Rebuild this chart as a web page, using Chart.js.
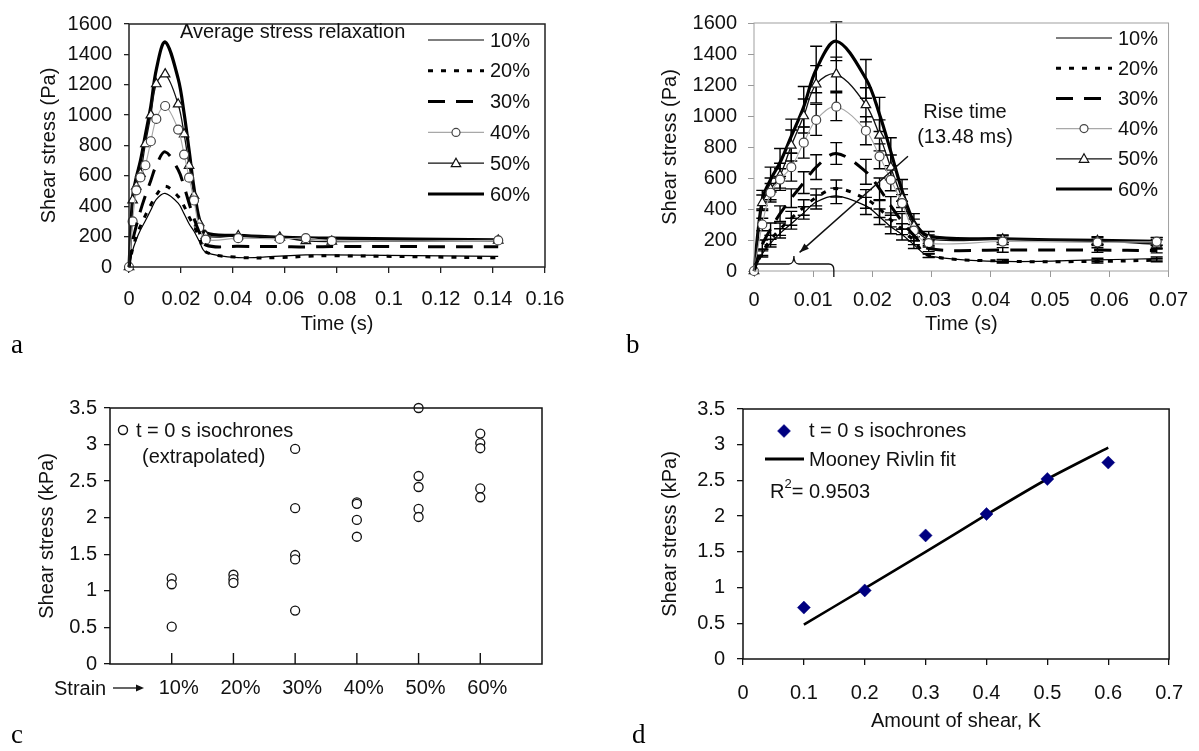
<!DOCTYPE html>
<html><head><meta charset="utf-8">
<script src="https://cdn.jsdelivr.net/npm/chart.js@4.4.0/dist/chart.umd.min.js"></script>
<style>
html,body{margin:0;padding:0;background:#fff;}
#wrap{position:relative;width:1199px;height:751px;overflow:hidden;background:#fff;}
.pane{position:absolute;}
.letter{position:absolute;font-family:"Liberation Serif","Times New Roman",serif;font-size:27px;line-height:27px;color:#000;}
</style></head><body>
<div id="wrap">
 <div class="pane" style="left:0;top:0;width:600px;height:360px"><canvas id="ca"></canvas></div>
 <div class="pane" style="left:600px;top:0;width:599px;height:360px"><canvas id="cb"></canvas></div>
 <div class="pane" style="left:0;top:360px;width:600px;height:391px"><canvas id="cc"></canvas></div>
 <div class="pane" style="left:600px;top:360px;width:599px;height:391px"><canvas id="cd"></canvas></div>
 <div class="letter" style="left:11px;top:331px">a</div>
 <div class="letter" style="left:626px;top:331px">b</div>
 <div class="letter" style="left:11px;top:721px">c</div>
 <div class="letter" style="left:632px;top:721px">d</div>
</div>
<script>
// ---------- data: panels a & b (stress relaxation) ----------
const times = [0, 0.0014, 0.0028, 0.0044, 0.0063, 0.0084, 0.0105, 0.0139, 0.0189, 0.0212, 0.0231, 0.025, 0.027, 0.0295, 0.042, 0.058, 0.068, 0.078, 0.142];
const stress10 = [0, 110, 180, 243, 305, 375, 445, 485, 420, 350, 285, 235, 170, 98, 62, 72, 80, 80, 70];
const stress20 = [0, 120, 200, 270, 340, 410, 475, 532, 465, 400, 330, 270, 195, 100, 64, 62, 70, 74, 60];
const stress30 = [0, 170, 270, 370, 470, 570, 670, 758, 640, 530, 420, 320, 230, 145, 136, 135, 132, 135, 133];
const stress40 = [0, 300, 505, 590, 670, 828, 975, 1060, 905, 740, 588, 438, 260, 180, 190, 185, 190, 172, 175];
const stress50 = [0, 440, 530, 615, 810, 1000, 1205, 1270, 1072, 875, 668, 470, 290, 205, 205, 195, 172, 168, 175];
const stress60 = [0, 460, 590, 700, 870, 1060, 1300, 1482, 1240, 1010, 770, 520, 320, 225, 208, 197, 192, 190, 178];
// error bars (panel b), one per time point up to 0.068 s
const err10 = [0, 20, 25, 30, 35, 40, 45, 50, 55, 50, 45, 35, 25, 12, 10, 10, 10];
const err20 = [0, 20, 30, 40, 45, 50, 55, 55, 60, 55, 45, 35, 25, 12, 10, 10, 10];
const err30 = [0, 30, 40, 50, 60, 70, 80, 70, 80, 70, 60, 50, 35, 20, 15, 15, 15];
const err40 = [0, 40, 60, 70, 90, 100, 100, 90, 90, 80, 70, 55, 40, 25, 20, 20, 25];
const err50 = [0, 50, 70, 80, 100, 110, 120, 110, 110, 100, 80, 60, 45, 28, 22, 22, 30];
const err60 = [0, 60, 80, 90, 110, 130, 150, 125, 125, 110, 90, 70, 50, 30, 25, 25, 25];
const seriesLabels = ['10%', '20%', '30%', '40%', '50%', '60%'];
const riseTimeS = 0.01348;
const riseArrowFrom = [0.026, 740];
const riseArrowTo = [0.0077, 120];

// ---------- data: panel c (isochrones by strain) ----------
const strainCats = ['10%', '20%', '30%', '40%', '50%', '60%'];
const iso10 = [1.17, 1.09, 0.51];
const iso20 = [1.22, 1.16, 1.11];
const iso30 = [2.94, 2.13, 1.49, 1.43, 0.73];
const iso40 = [2.21, 2.19, 1.97, 1.74];
const iso50 = [3.5, 2.57, 2.42, 2.12, 2.01];
const iso60 = [3.15, 3.02, 2.95, 2.40, 2.28];

// ---------- data: panel d (Mooney Rivlin) ----------
const shearK = [0.1, 0.2, 0.3, 0.4, 0.5, 0.6];
const isoStressK = [0.72, 0.96, 1.73, 2.03, 2.52, 2.75];
const fitStressK = [0.48, 0.99, 1.50, 2.02, 2.52, 2.96];

// ---------- common ----------
const FONT = '"Liberation Sans", Arial, Helvetica, sans-serif';
Chart.defaults.font.family = FONT;
Chart.defaults.font.size = 20;
Chart.defaults.color = '#111';
Chart.defaults.animation = false;
Chart.defaults.plugins.legend.display = false;
Chart.defaults.plugins.tooltip.enabled = false;

const allSeries = [stress10, stress20, stress30, stress40, stress50, stress60];
const allErr = [err10, err20, err30, err40, err50, err60];
const styles = [
  {color:'#000', width:1.2, dash:[], point:null},
  {color:'#000', width:3, dash:[5,8], point:null},
  {color:'#000', width:3, dash:[17,11], point:null},
  {color:'#a8a8a8', width:1.1, dash:[], point:'circle', r:4.5, pcol:'#444'},
  {color:'#111', width:1.3, dash:[], point:'triangle', r:5.5, pcol:'#111'},
  {color:'#000', width:3.2, dash:[], point:null}
];
const fmt = v => String(Math.round(v * 1000) / 1000);

function drawMarker(ctx, style, x, y, r, stroke, lw, fill) {
  ctx.save();
  ctx.setLineDash([]);
  ctx.lineWidth = lw; ctx.strokeStyle = stroke; ctx.fillStyle = fill || '#fff';
  ctx.beginPath();
  if (style === 'circle') ctx.arc(x, y, r, 0, Math.PI * 2);
  else if (style === 'triangle') {
    ctx.moveTo(x, y - r); ctx.lineTo(x + r * 0.95, y + r * 0.7); ctx.lineTo(x - r * 0.95, y + r * 0.7); ctx.closePath();
  } else if (style === 'diamond') {
    ctx.moveTo(x, y - r); ctx.lineTo(x + r, y); ctx.lineTo(x, y + r); ctx.lineTo(x - r, y); ctx.closePath();
  }
  ctx.fill(); ctx.stroke();
  ctx.restore();
}

function xAxis(o) {
  return {
    type: 'linear', position: 'bottom', min: o.min, max: o.max,
    afterBuildTicks: o.afterBuildTicks,
    ticks: {stepSize: o.step, padding: o.pad, color: '#111', font: {size: 20}, maxRotation: 0, autoSkip: false,
            callback: o.cb || fmt, labelOffset: o.labelOffset || 0},
    grid: {drawOnChartArea: false, drawTicks: o.tl > 0, tickLength: o.tl, color: o.col, lineWidth: o.lw},
    border: {display: false},
    title: {display: !!o.title, text: o.title, font: {size: 20}, color: '#111', padding: {top: 0, bottom: o.tpad || 0}},
    afterFit: s => { s.height = o.h; }
  };
}
function yAxis(o) {
  return {
    type: 'linear', position: 'left', min: o.min, max: o.max,
    ticks: {stepSize: o.step, padding: o.pad, color: '#111', font: {size: 20}, autoSkip: false, callback: fmt},
    grid: {drawOnChartArea: false, drawTicks: true, tickLength: o.tl, color: o.col, lineWidth: o.lw},
    border: {display: false},
    title: {display: true, text: o.title, font: {size: 20}, color: '#111', padding: {top: o.tpad, bottom: 0}},
    afterFit: s => { s.width = o.w; }
  };
}
function framePlugin(col, lw) {
  return {id: 'frame', afterDraw(chart) {
    const {ctx, chartArea: a} = chart;
    ctx.save(); ctx.strokeStyle = col; ctx.lineWidth = lw; ctx.setLineDash([]);
    ctx.strokeRect(a.left, a.top, a.right - a.left, a.bottom - a.top);
    ctx.restore();
  }};
}
function relaxLegend(x1, x2, tx, y0, dy) {
  return {id: 'relaxLegend', afterDraw(chart) {
    const ctx = chart.ctx;
    ctx.save();
    chart.data.datasets.forEach((ds, k) => {
      const st = styles[k];
      const y = y0 + k * dy;
      ctx.beginPath(); ctx.setLineDash(st.dash); ctx.lineCap = 'butt';
      ctx.strokeStyle = st.color; ctx.lineWidth = st.width;
      ctx.moveTo(x1, y); ctx.lineTo(x2, y); ctx.stroke();
      ctx.setLineDash([]);
      if (st.point) drawMarker(ctx, st.point, (x1 + x2) / 2, y, st.point === 'circle' ? 4 : 5, st.pcol, 1.2);
      ctx.fillStyle = '#111'; ctx.font = '20px ' + FONT; ctx.textAlign = 'left'; ctx.textBaseline = 'middle';
      ctx.fillText(ds.label, tx, y + 1);
    });
    ctx.restore();
  }};
}
function relaxSets(tmax, withErr) {
  return seriesLabels.map((lab, k) => {
    const st = styles[k];
    const pts = [];
    times.forEach((t, i) => { if (t <= tmax) pts.push({x: t, y: allSeries[k][i]}); });
    return {
      label: lab, data: pts, borderColor: st.color, borderWidth: st.width, borderDash: st.dash,
      borderCapStyle: 'butt', tension: 0.35, fill: false, clip: false,
      pointStyle: st.point || 'circle', pointRadius: st.point ? st.r : 0,
      pointBackgroundColor: '#fff', pointBorderColor: st.pcol || '#000', pointBorderWidth: 1.2,
      errs: withErr ? allErr[k] : null
    };
  });
}
const baseOpts = {responsive: true, maintainAspectRatio: false, devicePixelRatio: 1, events: []};

// ---------- panel a ----------
new Chart(document.getElementById('ca'), {
  type: 'line',
  data: {datasets: relaxSets(1, false)},
  options: Object.assign({}, baseOpts, {
    layout: {padding: {left: 0, top: 13, right: 55, bottom: 0}},
    scales: {
      x: xAxis({min: 0, max: 0.16, step: 0.02, pad: 14, tl: 6, col: '#222', lw: 1.3, title: 'Time (s)', tpad: 24, h: 93}),
      y: yAxis({min: 0, max: 1600, step: 200, pad: 12, tl: 5, col: '#222', lw: 1.3, title: 'Shear stress (Pa)', tpad: 37, w: 129})
    }
  }),
  plugins: [framePlugin('#222', 1.5), relaxLegend(428, 484, 490, 40, 30.8), {
    id: 'titleA', afterDraw(chart) {
      const ctx = chart.ctx; ctx.save();
      ctx.fillStyle = '#111'; ctx.font = '20px ' + FONT; ctx.textAlign = 'left'; ctx.textBaseline = 'middle';
      ctx.fillText('Average stress relaxation', 180, 32);
      ctx.restore();
    }
  }]
});

// ---------- panel b ----------
new Chart(document.getElementById('cb'), {
  type: 'line',
  data: {datasets: relaxSets(0.07, true)},
  options: Object.assign({}, baseOpts, {
    layout: {padding: {left: 0, top: 13, right: 28, bottom: 0}},
    scales: {
      x: xAxis({min: 0, max: 0.07, step: 0.01, pad: 11, tl: 6, col: '#999', lw: 1, title: 'Time (s)', tpad: 24, h: 89}),
      y: yAxis({min: 0, max: 1600, step: 200, pad: 11, tl: 6, col: '#999', lw: 1, title: 'Shear stress (Pa)', tpad: 58, w: 154})
    }
  }),
  plugins: [framePlugin('#a0a0a0', 1), {
    id: 'errBars', beforeDatasetsDraw(chart) {
      const {ctx, scales: {x, y}} = chart;
      ctx.save(); ctx.strokeStyle = '#000'; ctx.lineWidth = 1.4; ctx.setLineDash([]);
      chart.data.datasets.forEach(ds => {
        if (!ds.errs) return;
        ds.data.forEach((p, i) => {
          const e = ds.errs[i]; if (!e) return;
          const px = x.getPixelForValue(p.x), p1 = y.getPixelForValue(p.y + e), p2 = y.getPixelForValue(p.y - e);
          ctx.beginPath();
          ctx.moveTo(px, p1); ctx.lineTo(px, p2);
          ctx.moveTo(px - 6, p1); ctx.lineTo(px + 6, p1);
          ctx.moveTo(px - 6, p2); ctx.lineTo(px + 6, p2);
          ctx.stroke();
        });
      });
      ctx.restore();
    }
  }, relaxLegend(456, 512, 518, 38, 30.2), {
    id: 'riseTime', afterDraw(chart) {
      const {ctx, scales: {x, y}} = chart;
      ctx.save();
      ctx.fillStyle = '#111'; ctx.font = '20px ' + FONT; ctx.textAlign = 'center'; ctx.textBaseline = 'middle';
      ctx.fillText('Rise time', 365, 112);
      ctx.fillText('(13.48 ms)', 365, 137);
      // brace spanning the rise time
      const x0 = x.getPixelForValue(0), x1 = x.getPixelForValue(riseTimeS), xm = x.getPixelForValue(riseTimeS / 2);
      const yb = y.getPixelForValue(0) - 7;
      ctx.strokeStyle = '#111'; ctx.lineWidth = 1.3; ctx.setLineDash([]);
      ctx.beginPath();
      ctx.moveTo(x0, yb); ctx.lineTo(xm - 5, yb);
      ctx.quadraticCurveTo(xm, yb, xm, yb - 8);
      ctx.quadraticCurveTo(xm, yb, xm + 5, yb);
      ctx.lineTo(x1 - 5, yb);
      ctx.quadraticCurveTo(x1, yb, x1, yb + 6);
      ctx.lineTo(x1, yb + 13);
      ctx.stroke();
      // arrow
      const ax1 = x.getPixelForValue(riseArrowFrom[0]), ay1 = y.getPixelForValue(riseArrowFrom[1]);
      const ax2 = x.getPixelForValue(riseArrowTo[0]), ay2 = y.getPixelForValue(riseArrowTo[1]);
      ctx.beginPath(); ctx.moveTo(ax1, ay1); ctx.lineTo(ax2, ay2); ctx.lineWidth = 1.5; ctx.stroke();
      const ang = Math.atan2(ay2 - ay1, ax2 - ax1);
      ctx.beginPath();
      ctx.moveTo(ax2, ay2);
      ctx.lineTo(ax2 - 10 * Math.cos(ang - 0.35), ay2 - 10 * Math.sin(ang - 0.35));
      ctx.lineTo(ax2 - 10 * Math.cos(ang + 0.35), ay2 - 10 * Math.sin(ang + 0.35));
      ctx.closePath(); ctx.fillStyle = '#111'; ctx.fill();
      ctx.restore();
    }
  }]
});

// ---------- panel c ----------
const isoGroups = [iso10, iso20, iso30, iso40, iso50, iso60];
const isoPoints = [];
isoGroups.forEach((g, i) => g.forEach(v => isoPoints.push({x: i + 1, y: v})));
new Chart(document.getElementById('cc'), {
  type: 'scatter',
  data: {datasets: [{
    label: 't = 0 s isochrones (extrapolated)', data: isoPoints, clip: false,
    pointStyle: 'circle', pointRadius: 4.5, pointBackgroundColor: '#fff', pointBorderColor: '#111', pointBorderWidth: 1.3
  }]},
  options: Object.assign({}, baseOpts, {
    layout: {padding: {left: 0, top: 48, right: 58, bottom: 0}},
    scales: {
      x: xAxis({min: 0, max: 7, pad: 12, tl: 0, col: '#111', lw: 1.3, h: 87, labelOffset: 7,
        afterBuildTicks: s => { s.ticks = strainCats.map((c, i) => ({value: i + 1})); },
        cb: v => strainCats[Math.round(v) - 1] || ''}),
      y: yAxis({min: 0, max: 3.5, step: 0.5, pad: 7, tl: 6, col: '#111', lw: 1.3, title: 'Shear stress (kPa)', tpad: 35, w: 110})
    }
  }),
  plugins: [framePlugin('#111', 1.5), {
    id: 'cExtras', afterDraw(chart) {
      const {ctx, scales: {x, y}, chartArea: a} = chart;
      ctx.save();
      ctx.strokeStyle = '#111'; ctx.lineWidth = 1.4;
      strainCats.forEach((c, i) => {
        const px = x.getPixelForValue(i + 1);
        ctx.beginPath(); ctx.moveTo(px, a.bottom); ctx.lineTo(px, a.bottom - 11); ctx.stroke();
      });
      ctx.fillStyle = '#111'; ctx.font = '20px ' + FONT; ctx.textBaseline = 'middle'; ctx.textAlign = 'left';
      ctx.fillText('Strain', 54, 329);
      ctx.beginPath(); ctx.moveTo(113, 328); ctx.lineTo(138, 328); ctx.lineWidth = 1.3; ctx.stroke();
      ctx.beginPath(); ctx.moveTo(144, 328); ctx.lineTo(136, 324.5); ctx.lineTo(136, 331.5); ctx.closePath(); ctx.fill();
      drawMarker(ctx, 'circle', 123, 70, 4.5, '#111', 1.4);
      ctx.fillStyle = '#111';
      ctx.fillText('t = 0 s isochrones', 136, 71);
      ctx.fillText('(extrapolated)', 142, 97);
      ctx.restore();
    }
  }]
});

// ---------- panel d ----------
new Chart(document.getElementById('cd'), {
  type: 'scatter',
  data: {datasets: [
    {label: 't = 0 s isochrones', data: shearK.map((k, i) => ({x: k, y: isoStressK[i]})), clip: false,
     pointStyle: 'rectRot', pointRadius: 6.5, pointBackgroundColor: '#000080', pointBorderColor: '#000080', pointBorderWidth: 0.5},
    {label: 'Mooney Rivlin fit', type: 'line', data: shearK.map((k, i) => ({x: k, y: fitStressK[i]})),
     borderColor: '#000', borderWidth: 2.6, pointRadius: 0, tension: 0.2, fill: false, clip: false}
  ]},
  options: Object.assign({}, baseOpts, {
    layout: {padding: {left: 0, top: 49, right: 28, bottom: 0}},
    scales: {
      x: xAxis({min: 0, max: 0.7, step: 0.1, pad: 16, tl: 6, col: '#111', lw: 1.3, title: 'Amount of shear, K', tpad: 18, h: 92}),
      y: yAxis({min: 0, max: 3.5, step: 0.5, pad: 12, tl: 6, col: '#111', lw: 1.3, title: 'Shear stress (kPa)', tpad: 58, w: 143})
    }
  }),
  plugins: [framePlugin('#111', 1.5), {
    id: 'dLegend', afterDraw(chart) {
      const ctx = chart.ctx;
      ctx.save();
      drawMarker(ctx, 'diamond', 184, 71, 6.5, '#000080', 0.5, '#000080');
      ctx.fillStyle = '#111'; ctx.font = '20px ' + FONT; ctx.textBaseline = 'middle'; ctx.textAlign = 'left';
      ctx.fillText('t = 0 s isochrones', 209, 71);
      ctx.beginPath(); ctx.moveTo(165, 99); ctx.lineTo(204, 99); ctx.strokeStyle = '#000'; ctx.lineWidth = 2.8; ctx.stroke();
      ctx.fillText('Mooney Rivlin fit', 209, 100);
      ctx.fillText('R', 170, 132);
      const rw = ctx.measureText('R').width;
      ctx.font = '13px ' + FONT;
      ctx.fillText('2', 170 + rw, 124);
      const tw = ctx.measureText('2').width;
      ctx.font = '20px ' + FONT;
      ctx.fillText('= 0.9503', 170 + rw + tw, 132);
      ctx.restore();
    }
  }]
});
</script>
</body></html>
